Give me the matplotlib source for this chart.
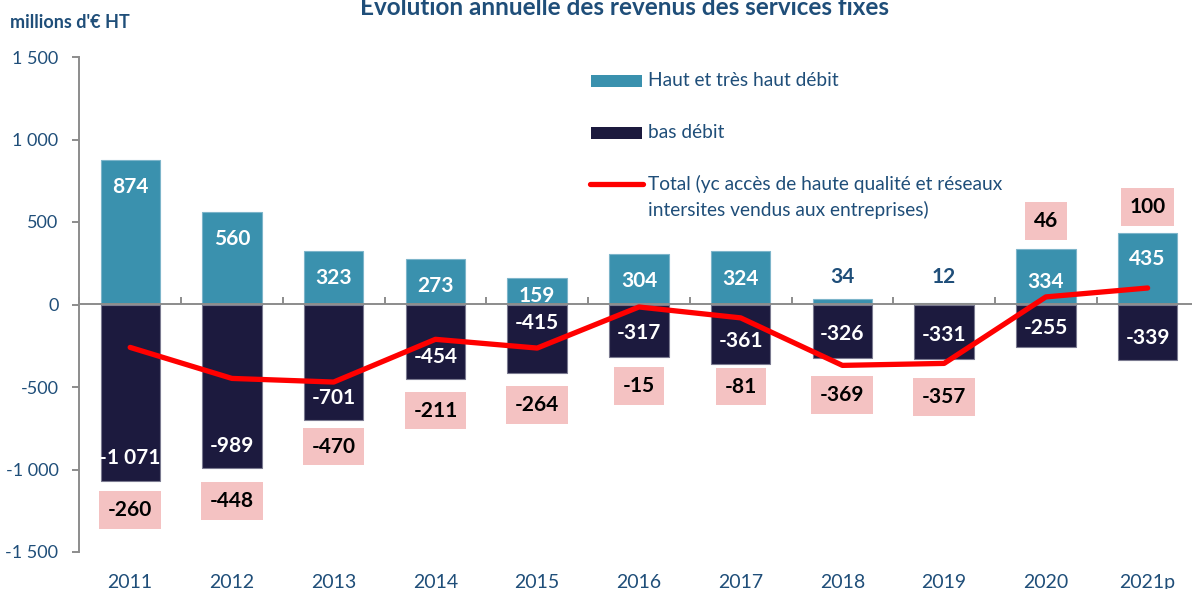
import matplotlib
matplotlib.use("Agg")
import matplotlib.pyplot as plt
from matplotlib.patches import Rectangle
from matplotlib.lines import Line2D
import numpy as np

# ---- data ----
years = ["2011", "2012", "2013", "2014", "2015", "2016", "2017", "2018", "2019", "2020", "2021p"]
haut_debit = [874, 560, 323, 273, 159, 304, 324, 34, 12, 334, 435]
bas_debit = [-1071, -989, -701, -454, -415, -317, -361, -326, -331, -255, -339]
total = [-260, -448, -470, -211, -264, -15, -81, -369, -357, 46, 100]
yticks = [-1500, -1000, -500, 0, 500, 1000, 1500]
ytick_labels = ["-1 500", "-1 000", "-500", "0", "500", "1 000", "1 500"]

# ---- label placement (layout) ----
haut_label_y = [714, 397, 159, 114, 53, 144, 153, 167, 167, 138, 276]
bas_label_y = [-928, -856, -565, -316, -114, -175, -219, -179, -185, -144, -201]
total_label_y = [-1245, -1190, -862, -643, -608, -493, -497, -548, -560, 506, 591]

def fmt(v):
    s = f"{abs(v):,}".replace(",", " ")
    return ("-" if v < 0 else "") + s

TEAL = "#3A91AE"
NAVY = "#1C1A3E"
RED = "#FF0000"
PINK = "#F4C2C2"
BLUE_TXT = "#1F4E79"
GRAY = "#8C8C8C"
FONT = "Lato"

plt.rcParams["font.family"] = [FONT, "DejaVu Sans"]

W, H = 1192, 589
fig = plt.figure(figsize=(W / 100, H / 100), dpi=100)
ax = fig.add_axes([79.3 / W, 1 - 552 / H, 1119.2 / W, (552 - 57) / H])

x = np.arange(len(years))
bw = 0.583
ax.bar(x, haut_debit, width=bw, color=TEAL, edgecolor="#7DB5CA", linewidth=0.8, zorder=2)
ax.bar(x, bas_debit, width=bw, color=NAVY, edgecolor="#7A7A90", linewidth=0.8, zorder=2)
ax.plot(x, total, color=RED, linewidth=3.8, solid_capstyle="round", solid_joinstyle="round", zorder=4)

ax.set_xlim(-0.5, len(years) - 0.5)
ax.set_ylim(-1500, 1500)
ax.set_yticks(yticks)
ax.set_yticklabels(ytick_labels)
ax.set_xticks(x)
ax.set_xticklabels(years)

for s in ["top", "right", "bottom"]:
    ax.spines[s].set_visible(False)
ax.spines["left"].set_color(GRAY)
ax.spines["left"].set_linewidth(1.4)
ax.tick_params(axis="y", direction="out", length=5, width=1.4, color=GRAY,
               labelcolor=BLUE_TXT, labelsize=13, pad=10)
ax.tick_params(axis="x", length=0, labelcolor=BLUE_TXT, labelsize=14, pad=16)

# zero axis with category boundary ticks
sec = ax.secondary_xaxis(0.5)
sec.set_xticks(np.arange(len(years) + 1) - 0.5)
sec.set_xticklabels([])
sec.tick_params(axis="x", direction="out", length=5, width=1.4, color=GRAY)
for sp in sec.spines.values():
    sp.set_color(GRAY)
    sp.set_linewidth(1.4)
sec.set_zorder(3)

# bar labels
for i, (v, ly) in enumerate(zip(haut_debit, haut_label_y)):
    inside = v > 100
    ax.text(x[i], ly, fmt(v), ha="center", va="center", fontsize=15, fontweight="bold",
            color="white" if inside else BLUE_TXT, zorder=5)
for i, (v, ly) in enumerate(zip(bas_debit, bas_label_y)):
    ax.text(x[i], ly, fmt(v), ha="center", va="center", fontsize=15, fontweight="bold",
            color="white", zorder=5)
for i, (v, ly) in enumerate(zip(total, total_label_y)):
    ax.text(x[i], ly, fmt(v), ha="center", va="center", fontsize=15, fontweight="bold",
            color="black", zorder=5,
            bbox=dict(boxstyle="square,pad=0.42", facecolor=PINK, edgecolor="none"))

# legend (manual)
def fy(py):
    return 1 - py / H
fig.patches.append(Rectangle((591 / W, fy(87)), 51 / W, 12 / H, facecolor=TEAL,
                             edgecolor="none", transform=fig.transFigure, figure=fig))
fig.patches.append(Rectangle((591 / W, fy(139)), 51 / W, 12 / H, facecolor=NAVY,
                             edgecolor="none", transform=fig.transFigure, figure=fig))
fig.lines.append(Line2D([590 / W, 643 / W], [fy(184), fy(184)], color=RED, linewidth=3.8,
                        solid_capstyle="round", transform=fig.transFigure, figure=fig))
fig.text(648 / W, fy(81), "Haut et très haut débit", ha="left", va="center",
         fontsize=13.8, color=BLUE_TXT)
fig.text(648 / W, fy(133), "bas débit", ha="left", va="center", fontsize=13.8, color=BLUE_TXT)
fig.text(648 / W, fy(184), "Total (yc accès de haute qualité et réseaux", ha="left", va="center",
         fontsize=13.8, color=BLUE_TXT)
fig.text(648 / W, fy(210), "intersites vendus aux entreprises)", ha="left", va="center",
         fontsize=13.8, color=BLUE_TXT)

# titles
fig.text(625 / W, fy(15), "Evolution annuelle des revenus des services fixes", ha="center",
         va="baseline", fontsize=17.5, fontweight="bold", color=BLUE_TXT)
fig.text(10 / W, fy(22), "millions d'€ HT", ha="left", va="center", fontsize=13,
         fontweight="bold", color=BLUE_TXT)

fig.savefig("out.png", dpi=100)
